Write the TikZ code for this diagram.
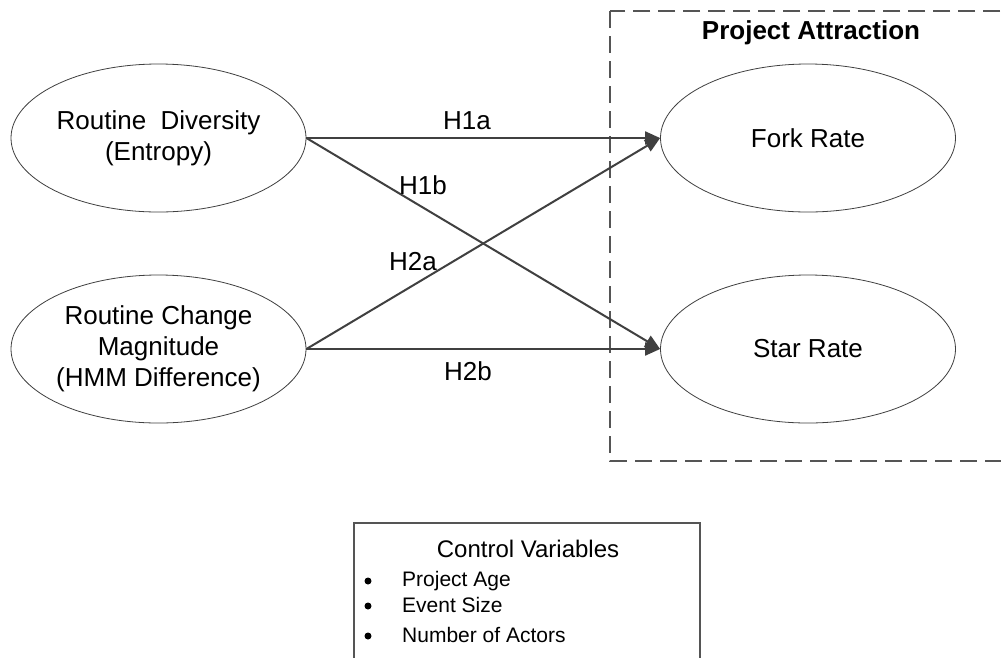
\documentclass[tikz,border=0pt]{standalone}
\usepackage{fontspec}
\setmainfont{Liberation Sans}
\usetikzlibrary{shapes.geometric,arrows.meta}
\definecolor{linegray}{HTML}{404040}
\definecolor{boxgray}{HTML}{555555}
\begin{document}
\begin{tikzpicture}[x=1pt,y=-1pt,
  construct/.style={ellipse,draw=linegray,line width=0.8pt,minimum width=295pt,minimum height=148pt,inner sep=0pt,align=center,font=\fontsize{26}{31}\selectfont},
  hyp/.style={draw=linegray,line width=2pt,-{Triangle[length=15pt,width=13pt]}},
  hlabel/.style={font=\fontsize{26}{31}\selectfont,inner sep=0pt},
  itemtext/.style={font=\fontsize{21}{25}\selectfont,anchor=base west,inner sep=0pt},
  bulletdot/.style={circle,fill=black,inner sep=0pt,minimum size=7pt}]
\useasboundingbox (0,0) rectangle (1001,657);
\clip (0,0) rectangle (1001,657);
\fill[white] (0,0) rectangle (1001,657);
% dashed group
\draw[boxgray,line width=2pt,dash pattern=on 17pt off 8pt] (610,11) rectangle (1030,461);
\node[font=\bfseries\fontsize{26}{31}\selectfont,inner sep=0pt] (title) at (811,33) {Project Attraction};
% constructs
\node[construct] (div) at (158.5,138) {Routine\ \ Diversity\\(Entropy)};
\node[construct] (chg) at (158.5,349) {Routine Change\\Magnitude\\(HMM Difference)};
\node[construct] (fork) at (808,138) {Fork Rate};
\node[construct] (star) at (808,349) {Star Rate};
% hypotheses
\draw[hyp] (div.east) -- (fork.west);
\draw[hyp] (div.east) -- (star.west);
\draw[hyp] (chg.east) -- (fork.west);
\draw[hyp] (chg.east) -- (star.west);
\node[hlabel] (h1a) at (467,121) {H1a};
\node[hlabel] (h1b) at (423,185) {H1b};
\node[hlabel] (h2a) at (413,262) {H2a};
\node[hlabel] (h2b) at (468,371) {H2b};
% control variables
\draw[boxgray,line width=1.5pt] (354,680) -- (354,523) -- (700,523) -- (700,680);
\node[font=\fontsize{24}{28}\selectfont,inner sep=0pt,anchor=base] (ctl) at (528,557) {Control Variables};
\node[bulletdot] (b1) at (368,581) {};
\node[itemtext] (i1) at (402,586) {Project Age};
\node[bulletdot] (b2) at (368,606) {};
\node[itemtext] (i2) at (402,612) {Event Size};
\node[bulletdot] (b3) at (368,636) {};
\node[itemtext] (i3) at (402,642) {Number of Actors};
\end{tikzpicture}
\end{document}
